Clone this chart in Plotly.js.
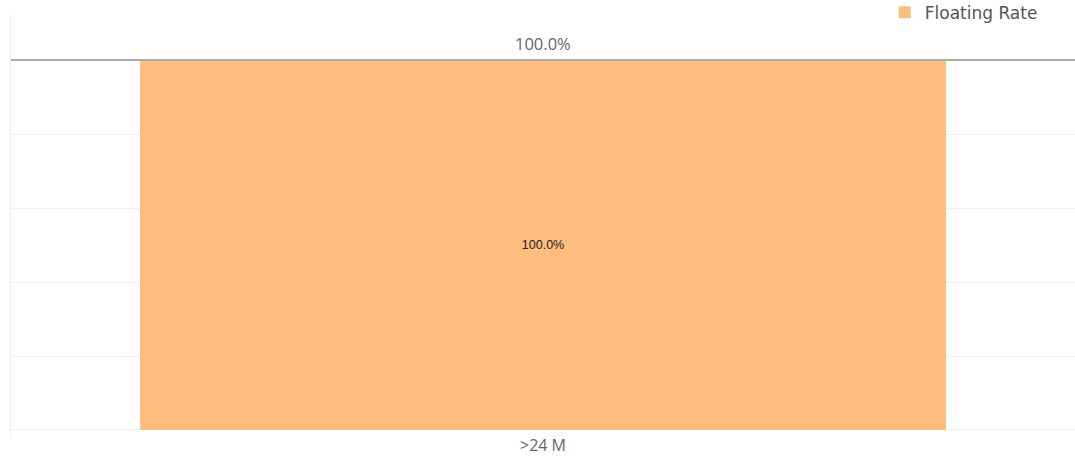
<!DOCTYPE html>
<html>
<head>
<meta charset="utf-8">
<script src="https://cdn.plot.ly/plotly-3.0.1.min.js"></script>
<style>html,body{margin:0;padding:0;background:#fff;}#chart{width:1075px;height:457px;}</style>
</head>
<body>
<div id="chart"></div>
<script>
const categories = [">24 M"];
const seriesName = "Floating Rate";
const floatingRate = [100.0];
const totals = [100.0];

const trace = {
  type: "bar",
  x: categories,
  y: floatingRate,
  name: seriesName,
  marker: {color: "#FFBD7D"},
  width: 0.7575,
  text: floatingRate.map(v => v.toFixed(1) + "%"),
  textposition: "inside",
  insidetextanchor: "middle",
  textfont: {family: "Liberation Sans, Arial, sans-serif", size: 12.5, color: "#222"},
  hoverinfo: "none",
  showlegend: true
};

const layout = {
  width: 1075, height: 457,
  margin: {l: 11, r: 0, t: 15, b: 20, autoexpand: false},
  paper_bgcolor: "#fff", plot_bgcolor: "#fff",
  showlegend: true,
  legend: {
    orientation: "h", xref: "container", yref: "container",
    x: 0.97, xanchor: "right", y: 0.972, yanchor: "middle",
    font: {family: "DejaVu Sans, sans-serif", size: 17, color: "#555"},
    bgcolor: "rgba(0,0,0,0)"
  },
  xaxis: {
    type: "category", showgrid: false, showline: false, zeroline: false,
    tickfont: {family: "Open Sans, sans-serif", size: 16, color: "#666"},
    ticks: "", fixedrange: true, automargin: false, ticklabelstandoff: -3
  },
  yaxis: {
    range: [-1.9, 112.2], dtick: 20, tick0: 0, showticklabels: false,
    showgrid: true, gridcolor: "#f0f0f0", gridwidth: 1,
    zeroline: false, showline: true, linecolor: "#ececec", linewidth: 1, ticks: ""
  },
  shapes: [{
    type: "line", xref: "paper", x0: 0, x1: 1, yref: "y", y0: totals[0], y1: totals[0],
    line: {color: "#aaaaaa", width: 2}, layer: "above"
  }],
  annotations: categories.map((c, i) => ({
    x: c, y: totals[i], xref: "x", yref: "y",
    text: totals[i].toFixed(1) + "%", showarrow: false,
    yanchor: "bottom", yshift: 3,
    font: {family: "Open Sans, sans-serif", size: 16.5, color: "#666"}
  }))
};

Plotly.newPlot("chart", [trace], layout, {displayModeBar: false, staticPlot: true});
</script>
</body>
</html>
